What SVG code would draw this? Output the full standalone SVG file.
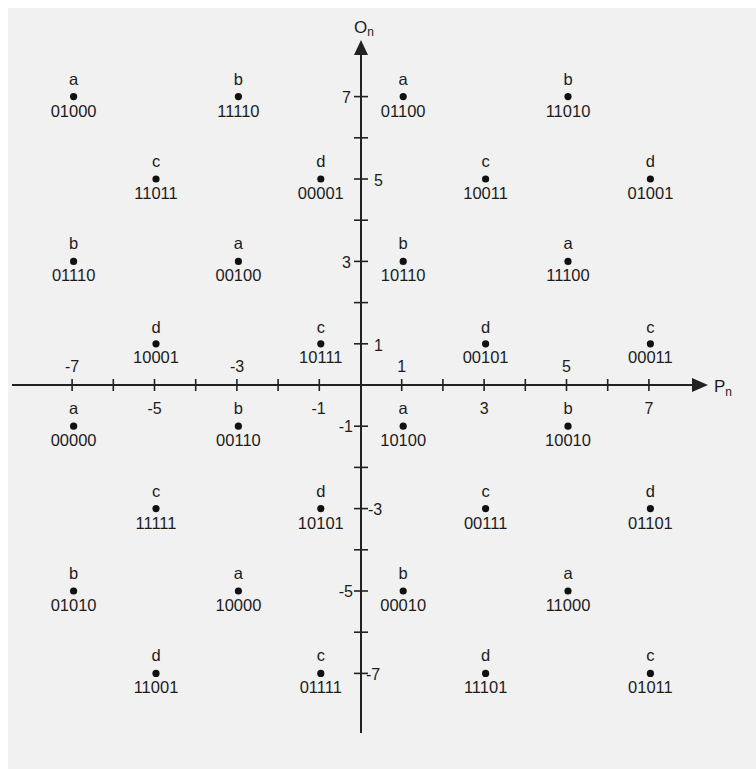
<svg xmlns="http://www.w3.org/2000/svg" width="756" height="769" viewBox="0 0 756 769">
<style>
text{font-family:"Liberation Sans",Arial,sans-serif;fill:#1c1c1c}
.l{font-size:16.5px;text-anchor:middle}
.c{font-size:16.5px;text-anchor:middle}
.ax{font-size:16px}
.m{text-anchor:middle}
.e{text-anchor:end}
.axis{stroke:#222;stroke-width:2;fill:none}
.tick{stroke:#222;stroke-width:1.6}
.dot{fill:#111}
</style>
<defs>
<g id="pt"><circle class="dot" r="3.6"/></g>
</defs>
<rect width="756" height="769" fill="#fff"/>
<rect x="8" y="8" width="748" height="761" fill="#f1f1f1"/>
<g id="connectors">
<line class="axis" x1="12" y1="385" x2="696" y2="385"/>
<polygon points="708,385 692,378 692,392" fill="#222"/>
<line class="axis" x1="361" y1="733" x2="361" y2="54"/>
<polygon points="361,40 354,55 368,55" fill="#222"/>
<g class="tick">
<line x1="72.1" y1="379" x2="72.1" y2="391"/><line x1="113.3" y1="379" x2="113.3" y2="391"/>
<line x1="154.5" y1="379" x2="154.5" y2="391"/><line x1="195.7" y1="379" x2="195.7" y2="391"/>
<line x1="236.9" y1="379" x2="236.9" y2="391"/><line x1="278.1" y1="379" x2="278.1" y2="391"/>
<line x1="319.3" y1="379" x2="319.3" y2="391"/><line x1="401.7" y1="379" x2="401.7" y2="391"/>
<line x1="442.9" y1="379" x2="442.9" y2="391"/><line x1="484.1" y1="379" x2="484.1" y2="391"/>
<line x1="525.3" y1="379" x2="525.3" y2="391"/><line x1="566.5" y1="379" x2="566.5" y2="391"/>
<line x1="607.7" y1="379" x2="607.7" y2="391"/><line x1="648.9" y1="379" x2="648.9" y2="391"/>
<line x1="354" y1="96.6" x2="368" y2="96.6"/><line x1="354" y1="137.8" x2="368" y2="137.8"/>
<line x1="354" y1="179" x2="368" y2="179"/><line x1="354" y1="220.2" x2="368" y2="220.2"/>
<line x1="354" y1="261.4" x2="368" y2="261.4"/><line x1="354" y1="302.6" x2="368" y2="302.6"/>
<line x1="354" y1="343.8" x2="368" y2="343.8"/><line x1="354" y1="426.2" x2="368" y2="426.2"/>
<line x1="354" y1="467.4" x2="368" y2="467.4"/><line x1="354" y1="508.6" x2="368" y2="508.6"/>
<line x1="354" y1="549.8" x2="368" y2="549.8"/><line x1="354" y1="591" x2="368" y2="591"/>
<line x1="354" y1="632.2" x2="368" y2="632.2"/><line x1="354" y1="673.4" x2="368" y2="673.4"/>
</g>
</g>
<g id="axis-labels" class="ax">
<text x="714" y="392" style="font-size:17px">P<tspan dy="4" style="font-size:12px">n</tspan></text>
<text x="354" y="33" style="font-size:17px">O<tspan dy="3" style="font-size:12px">n</tspan></text>
<text class="m" x="72" y="372">-7</text>
<text class="m" x="237" y="372">-3</text>
<text class="m" x="401.7" y="372">1</text>
<text class="m" x="566.5" y="372">5</text>
<text class="m" x="154.5" y="414">-5</text>
<text class="m" x="318.5" y="414">-1</text>
<text class="m" x="484.1" y="414">3</text>
<text class="m" x="648.9" y="414">7</text>
<text class="e" x="351" y="103">7</text>
<text class="e" x="351" y="268">3</text>
<text class="e" x="353" y="432">-1</text>
<text class="e" x="353" y="597">-5</text>
<text x="374" y="186">5</text>
<text x="374" y="351">1</text>
<text x="368" y="515">-3</text>
<text x="366" y="680">-7</text>
</g>
<g id="p01000" transform="translate(73.6,96.6)"><text class="l" y="-12">a</text><use href="#pt"/><text class="c" y="20">01000</text></g>
<g id="p11110" transform="translate(238.4,96.6)"><text class="l" y="-12">b</text><use href="#pt"/><text class="c" y="20">11110</text></g>
<g id="p01100" transform="translate(403.2,96.6)"><text class="l" y="-12">a</text><use href="#pt"/><text class="c" y="20">01100</text></g>
<g id="p11010" transform="translate(568,96.6)"><text class="l" y="-12">b</text><use href="#pt"/><text class="c" y="20">11010</text></g>
<g id="p11011" transform="translate(156,179)"><text class="l" y="-12">c</text><use href="#pt"/><text class="c" y="20">11011</text></g>
<g id="p00001" transform="translate(320.8,179)"><text class="l" y="-12">d</text><use href="#pt"/><text class="c" y="20">00001</text></g>
<g id="p10011" transform="translate(485.6,179)"><text class="l" y="-12">c</text><use href="#pt"/><text class="c" y="20">10011</text></g>
<g id="p01001" transform="translate(650.4,179)"><text class="l" y="-12">d</text><use href="#pt"/><text class="c" y="20">01001</text></g>
<g id="p01110" transform="translate(73.6,261.4)"><text class="l" y="-12">b</text><use href="#pt"/><text class="c" y="20">01110</text></g>
<g id="p00100" transform="translate(238.4,261.4)"><text class="l" y="-12">a</text><use href="#pt"/><text class="c" y="20">00100</text></g>
<g id="p10110" transform="translate(403.2,261.4)"><text class="l" y="-12">b</text><use href="#pt"/><text class="c" y="20">10110</text></g>
<g id="p11100" transform="translate(568,261.4)"><text class="l" y="-12">a</text><use href="#pt"/><text class="c" y="20">11100</text></g>
<g id="p10001" transform="translate(156,343.8)"><text class="l" y="-11">d</text><use href="#pt"/><text class="c" y="19">10001</text></g>
<g id="p10111" transform="translate(320.8,343.8)"><text class="l" y="-11">c</text><use href="#pt"/><text class="c" y="19">10111</text></g>
<g id="p00101" transform="translate(485.6,343.8)"><text class="l" y="-11">d</text><use href="#pt"/><text class="c" y="19">00101</text></g>
<g id="p00011" transform="translate(650.4,343.8)"><text class="l" y="-11">c</text><use href="#pt"/><text class="c" y="19">00011</text></g>
<g id="p00000" transform="translate(73.6,426.2)"><text class="l" y="-12">a</text><use href="#pt"/><text class="c" y="20">00000</text></g>
<g id="p00110" transform="translate(238.4,426.2)"><text class="l" y="-12">b</text><use href="#pt"/><text class="c" y="20">00110</text></g>
<g id="p10100" transform="translate(403.2,426.2)"><text class="l" y="-12">a</text><use href="#pt"/><text class="c" y="20">10100</text></g>
<g id="p10010" transform="translate(568,426.2)"><text class="l" y="-12">b</text><use href="#pt"/><text class="c" y="20">10010</text></g>
<g id="p11111" transform="translate(156,508.6)"><text class="l" y="-12">c</text><use href="#pt"/><text class="c" y="20">11111</text></g>
<g id="p10101" transform="translate(320.8,508.6)"><text class="l" y="-12">d</text><use href="#pt"/><text class="c" y="20">10101</text></g>
<g id="p00111" transform="translate(485.6,508.6)"><text class="l" y="-12">c</text><use href="#pt"/><text class="c" y="20">00111</text></g>
<g id="p01101" transform="translate(650.4,508.6)"><text class="l" y="-12">d</text><use href="#pt"/><text class="c" y="20">01101</text></g>
<g id="p01010" transform="translate(73.6,591)"><text class="l" y="-12">b</text><use href="#pt"/><text class="c" y="20">01010</text></g>
<g id="p10000" transform="translate(238.4,591)"><text class="l" y="-12">a</text><use href="#pt"/><text class="c" y="20">10000</text></g>
<g id="p00010" transform="translate(403.2,591)"><text class="l" y="-12">b</text><use href="#pt"/><text class="c" y="20">00010</text></g>
<g id="p11000" transform="translate(568,591)"><text class="l" y="-12">a</text><use href="#pt"/><text class="c" y="20">11000</text></g>
<g id="p11001" transform="translate(156,673.4)"><text class="l" y="-12">d</text><use href="#pt"/><text class="c" y="20">11001</text></g>
<g id="p01111" transform="translate(320.8,673.4)"><text class="l" y="-12">c</text><use href="#pt"/><text class="c" y="20">01111</text></g>
<g id="p11101" transform="translate(485.6,673.4)"><text class="l" y="-12">d</text><use href="#pt"/><text class="c" y="20">11101</text></g>
<g id="p01011" transform="translate(650.4,673.4)"><text class="l" y="-12">c</text><use href="#pt"/><text class="c" y="20">01011</text></g>
</svg>
